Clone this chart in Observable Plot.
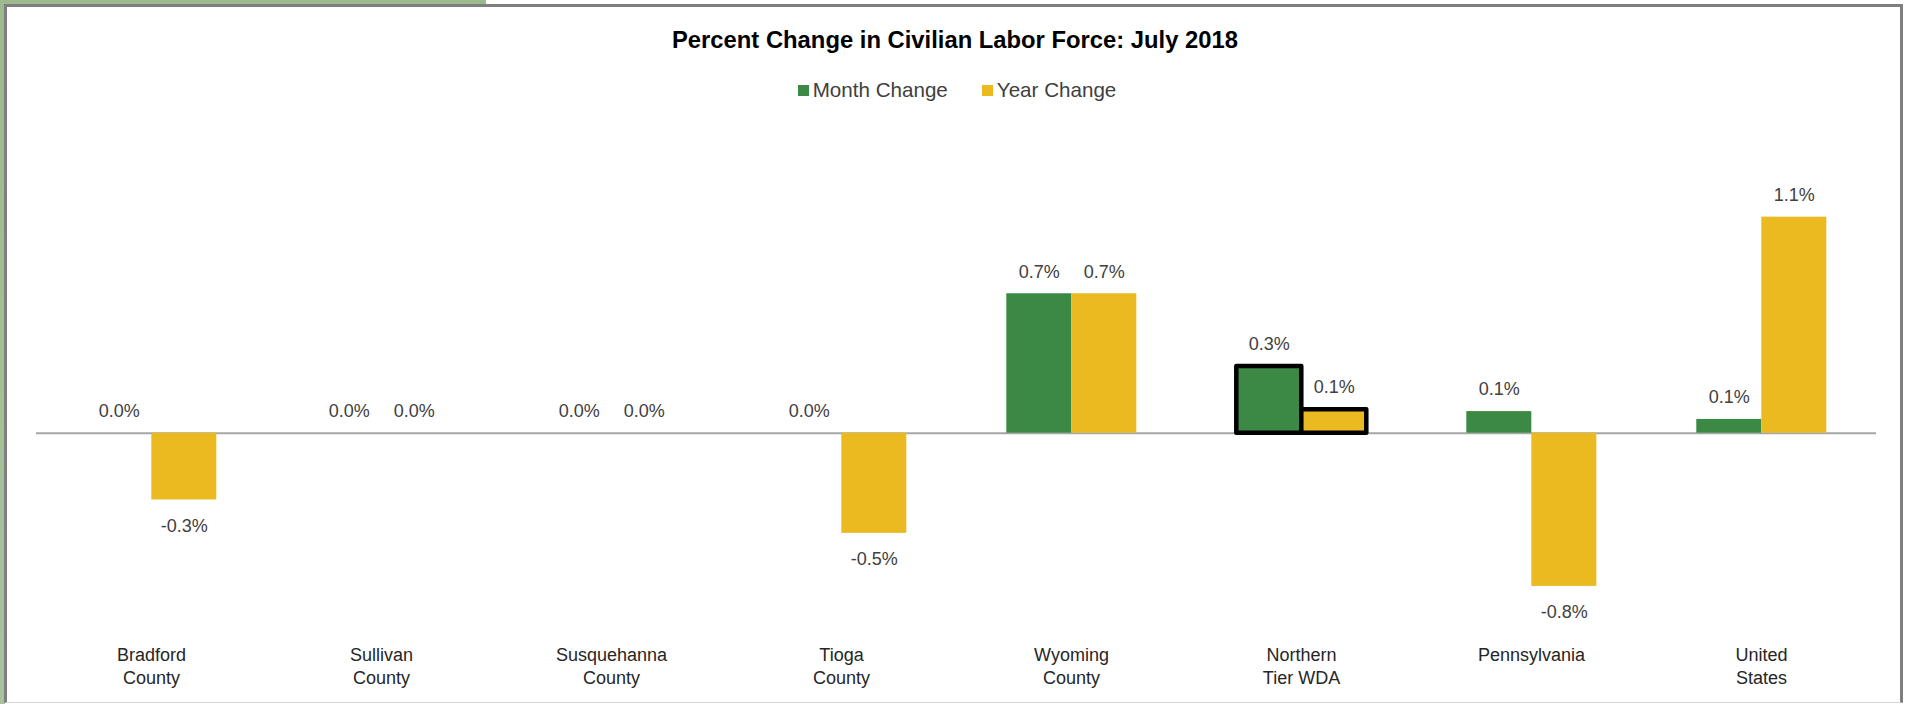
<!DOCTYPE html>
<html>
<head>
<meta charset="utf-8">
<script src="https://cdn.jsdelivr.net/npm/d3@7"></script>
<script src="https://cdn.jsdelivr.net/npm/@observablehq/plot@0.6"></script>
<style>
  html, body { margin: 0; padding: 0; background: #fff; width: 1906px; height: 704px; overflow: hidden;
    font-family: "Liberation Sans", Arial, sans-serif; }
  #greenTop { position: absolute; left: 0; top: 0; width: 486px; height: 5px; background: #9dba8e; }
  #greenLeft { position: absolute; left: 0; top: 0; width: 5px; height: 704px; background: linear-gradient(#9dba8e, #a9c39c); }
  #frame { position: absolute; left: 4px; top: 4px; width: 1893px; height: 695px;
    border: 3px solid #7f7f7f; border-bottom: 1px solid #d6d6d6; background: #fff; }
  #title { position: absolute; left: 2px; top: 25px; width: 1906px; text-align: center;
    font-weight: bold; font-size: 23.8px; line-height: 30px; color: #000; }
  #legend { position: absolute; left: 4px; top: 78px; width: 1906px; display: flex; justify-content: center;
    font-size: 20.6px; line-height: 24px; color: #404040; }
  .item { display: flex; align-items: center; margin: 0 17px; }
  .sw { width: 11px; height: 11px; margin-right: 4px; }
  #chart { position: absolute; left: 0; top: 110px; }
</style>
</head>
<body>
<div id="greenTop"></div>
<div id="greenLeft"></div>
<div id="frame"></div>
<div id="title"></div>
<div id="legend"></div>
<div id="chart"></div>
<script>
const chartTitle = "Percent Change in Civilian Labor Force: July 2018";
const categories = ["Bradford County", "Sullivan County", "Susquehanna County", "Tioga County",
  "Wyoming County", "Northern Tier WDA", "Pennsylvania", "United States"];
const categoryLabels = ["Bradford\nCounty", "Sullivan\nCounty", "Susquehanna\nCounty", "Tioga\nCounty",
  "Wyoming\nCounty", "Northern\nTier WDA", "Pennsylvania", "United\nStates"];
const seriesNames = ["Month Change", "Year Change"];
const monthChange = [0.0, 0.0, 0.0, 0.0, 0.71, 0.34, 0.11, 0.07];
const yearChange = [-0.34, 0.0, 0.0, -0.51, 0.71, 0.12, -0.78, 1.10];
const highlighted = "Northern Tier WDA";
const seriesColors = ["#3b8944", "#ebb920"];

document.getElementById("title").textContent = chartTitle;
const legend = document.getElementById("legend");
seriesNames.forEach((s, i) => {
  const it = document.createElement("div"); it.className = "item";
  const sw = document.createElement("span"); sw.className = "sw"; sw.style.background = seriesColors[i];
  const tx = document.createElement("span"); tx.textContent = s;
  it.appendChild(sw); it.appendChild(tx); legend.appendChild(it);
});

const rows = categories.flatMap((c, i) => [
  {cat: c, series: seriesNames[0], value: monthChange[i]},
  {cat: c, series: seriesNames[1], value: yearChange[i]}
]);
const labelRows = categories.map((c, i) => ({cat: c, label: categoryLabels[i]}));
const fmt = v => (v < 0 ? "-" : "") + Math.abs(v).toFixed(1) + "%";

const unit = 196.4, zeroY = 322.7;
const chart = Plot.plot({
  width: 1906,
  height: 590,
  marginTop: 0,
  marginBottom: 60,
  marginLeft: 35.7,
  marginRight: 30.3,
  style: {fontFamily: "'Liberation Sans', Arial, sans-serif", background: "transparent", overflow: "visible"},
  fx: {domain: categories, range: [35.7, 1875.7], padding: 0, axis: null},
  x: {domain: seriesNames, paddingInner: 0, paddingOuter: 0.76, axis: null},
  y: {domain: [-1, 1.5], range: [zeroY + unit, zeroY - 1.5 * unit], axis: null},
  color: {domain: seriesNames, range: seriesColors},
  marks: [
    Plot.ruleY([0], {stroke: "#a6a6a6", strokeWidth: 2}),
    Plot.barY(rows.filter(d => d.cat !== highlighted), {fx: "cat", x: "series", y: "value", fill: "series"}),
    Plot.barY(rows.filter(d => d.cat === highlighted), {fx: "cat", x: "series", y: "value", fill: "series",
      stroke: "#000", strokeWidth: 4.5, strokeLinejoin: "round"}),
    Plot.text(rows.filter(d => d.value >= 0), {fx: "cat", x: "series", y: "value", text: d => fmt(d.value),
      dy: -22, fontSize: 18, fill: "#404040"}),
    Plot.text(rows.filter(d => d.value < 0), {fx: "cat", x: "series", y: "value", text: d => fmt(d.value),
      dy: 26, fontSize: 18, fill: "#404040"}),
    Plot.text(labelRows, {fx: "cat", text: "label", frameAnchor: "bottom", lineAnchor: "top", dy: 3.5,
      lineHeight: 1.3, fontSize: 18, fill: "#262626"})
  ]
});
document.getElementById("chart").appendChild(chart);
</script>
</body>
</html>
